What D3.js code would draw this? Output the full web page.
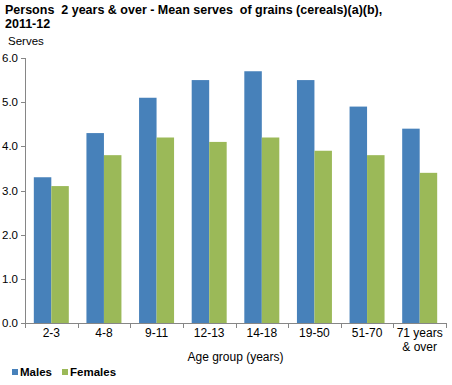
<!DOCTYPE html>
<html><head><meta charset="utf-8">
<script src="https://cdn.jsdelivr.net/npm/d3@7"></script>
<style>body{margin:0;background:#fff;} text{font-family:"Liberation Sans",Arial,sans-serif;white-space:pre;}</style>
</head><body>
<svg id="c" width="452" height="385"></svg>
<script>
const categories = ["2-3","4-8","9-11","12-13","14-18","19-50","51-70","71 years\n& over"];
const males = [3.3,4.3,5.1,5.5,5.7,5.5,4.9,4.4];
const females = [3.1,3.8,4.2,4.1,4.2,3.9,3.8,3.4];
const seriesNames = ["Males","Females"];
const colors = ["#4781BA","#9BB958"];
const yTicks = [0,1,2,3,4,5,6];

(function(){
const svg = d3.select("#c");
const pL = 25, pR = 446, pT = 58, pB = 323;
const x = d3.scaleBand().domain(categories).range([pL,pR]).paddingInner(0.335).paddingOuter(0.1675);
const x1 = d3.scaleBand().domain(seriesNames).range([0,x.bandwidth()]);
const y = d3.scaleLinear().domain([0,6]).range([pB,pT]);

// title
const t = svg.append("text").attr("font-weight","bold").attr("font-size","12.5px").attr("fill","#000");
t.append("tspan").attr("x",5).attr("y",14).text("Persons  2 years & over - Mean serves  of grains (cereals)(a)(b),");
t.append("tspan").attr("x",5).attr("y",28).text("2011-12");
svg.append("text").attr("x",8).attr("y",45).attr("font-size","11.5px").text("Serves");

// bars
const data = [males,females];
categories.forEach((c,i)=>{
  seriesNames.forEach((s,j)=>{
    svg.append("rect").attr("x",x(c)+x1(s)).attr("width",x1.bandwidth())
      .attr("y",y(data[j][i])).attr("height",y(0)-y(data[j][i])).attr("fill",colors[j]);
  });
});

// y axis
svg.append("line").attr("x1",pL+0.5).attr("x2",pL+0.5).attr("y1",pT).attr("y2",pB).attr("stroke","#868686");
yTicks.forEach(v=>{
  svg.append("line").attr("x1",pL-4).attr("x2",pL).attr("y1",Math.round(y(v))+0.5).attr("y2",Math.round(y(v))+0.5).attr("stroke","#868686");
  svg.append("text").attr("x",18).attr("y",y(v)+4).attr("text-anchor","end").attr("font-size","11.5px").text(d3.format(".1f")(v));
});
// x axis
svg.append("line").attr("x1",pL-4).attr("x2",pR).attr("y1",pB+0.5).attr("y2",pB+0.5).attr("stroke","#868686");
const step = (pR-pL)/categories.length;
d3.range(categories.length+1).forEach(i=>{
  const xx = Math.round(pL+i*step)+0.5;
  svg.append("line").attr("x1",xx).attr("x2",xx).attr("y1",pB).attr("y2",pB+5).attr("stroke","#868686");
});
categories.forEach(c=>{
  const lines = c.split("\n");
  const tx = svg.append("text").attr("text-anchor","middle").attr("font-size","12px");
  lines.forEach((l,k)=>tx.append("tspan").attr("x",x(c)+x.bandwidth()/2).attr("y",337+k*13.5).text(l));
});
svg.append("text").attr("x",(pL+pR)/2).attr("y",361).attr("text-anchor","middle").attr("font-size","12px").text("Age group (years)");

// legend
const lg = [{n:"Males",x:12},{n:"Females",x:62}];
lg.forEach((d,i)=>{
  svg.append("rect").attr("x",d.x).attr("y",369).attr("width",6).attr("height",6).attr("fill",colors[i]);
  svg.append("text").attr("x",d.x+8).attr("y",376).attr("font-size","11.5px").attr("font-weight","bold").text(d.n);
});
})();
</script>
</body></html>
